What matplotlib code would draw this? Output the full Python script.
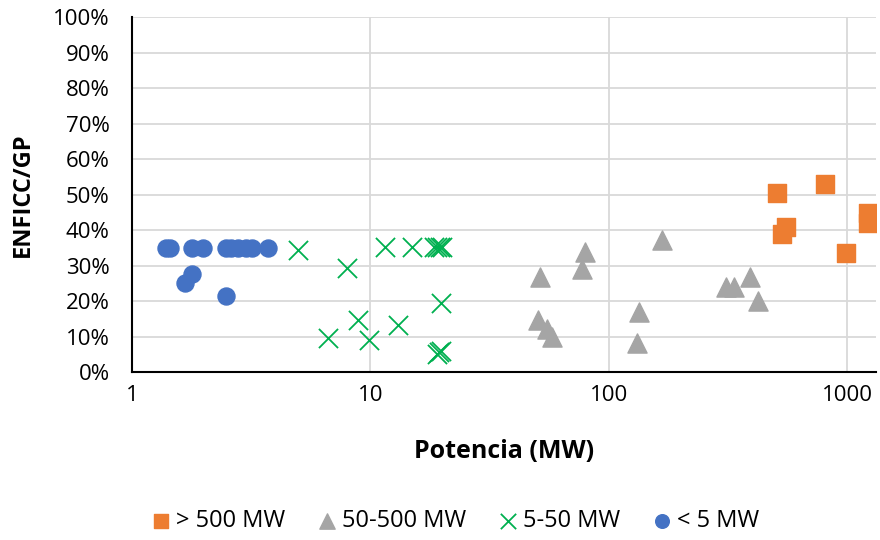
import matplotlib
matplotlib.use("Agg")
import matplotlib.pyplot as plt
from matplotlib.ticker import FixedLocator, FuncFormatter, NullLocator

plt.rcParams['font.family'] = ['Open Sans', 'DejaVu Sans']

# > 500 MW
big_x = [505, 807, 551, 533, 986, 1222, 1222]
big_y = [50.5, 53.0, 40.9, 38.9, 33.6, 44.9, 41.9]

# 50-500 MW
mid_x = [51.4, 79.3, 77.3, 50.6, 54.8, 57.5, 167, 133.6, 130.6, 311, 334, 390, 423]
mid_y = [26.8, 33.9, 28.9, 14.8, 12.0, 9.9, 37.2, 17.0, 8.3, 24.0, 24.0, 26.8, 20.1]

# 5-50 MW
small_x = [4.98, 7.95, 6.66, 8.89, 9.89, 11.5, 14.9, 18.5, 19.0, 19.5, 20.0,
           19.7, 13.1, 19.0, 19.4, 19.8]
small_y = [34.4, 29.2, 9.5, 14.6, 9.0, 35.3, 35.3, 35.3, 35.3, 35.3, 35.3,
           19.5, 13.2, 5.2, 5.7, 6.0]

# < 5 MW
tiny_x = [1.39, 1.44, 1.785, 1.98, 2.48, 2.60, 2.78, 3.0, 3.18, 3.72, 1.785, 1.67, 2.48]
tiny_y = [35.0, 35.0, 35.0, 35.0, 35.0, 35.0, 35.0, 35.0, 35.0, 35.0, 27.6, 25.0, 21.4]

fig = plt.figure(figsize=(8.8, 5.4), dpi=100)
ax = fig.add_axes([0.15, 0.311, 0.8455, 0.6575])

ax.scatter(big_x, big_y, marker='s', s=150, color='#ED7D31', label='> 500 MW', zorder=3)
ax.scatter(mid_x, mid_y, marker='^', s=190, color='#A5A5A5', label='50-500 MW', zorder=3)
ax.scatter(small_x, small_y, marker='x', s=190, color='#00B050', linewidths=1.3,
           label='5-50 MW', zorder=3)
ax.scatter(tiny_x, tiny_y, marker='o', s=150, color='#4472C4', label='< 5 MW', zorder=3)

ax.set_xscale('log')
ax.set_xlim(1, 1320)
ax.set_ylim(0, 100)
ax.xaxis.set_major_locator(FixedLocator([1, 10, 100, 1000]))
ax.xaxis.set_minor_locator(NullLocator())
ax.xaxis.set_major_formatter(FuncFormatter(lambda v, p: f"{v:g}"))
ax.set_yticks(range(0, 101, 10))
ax.yaxis.set_major_formatter(FuncFormatter(lambda v, p: f"{v:.0f}%"))

ax.grid(True, color='#D9D9D9', linewidth=1.3, zorder=0)
ax.set_axisbelow(True)
for side in ['top', 'right']:
    ax.spines[side].set_visible(False)
for side in ['left', 'bottom']:
    ax.spines[side].set_color('black')
    ax.spines[side].set_linewidth(1.5)
ax.tick_params(axis='y', length=0, labelsize=16, pad=16)
ax.tick_params(axis='x', length=0, labelsize=16, pad=9)

ax.set_xlabel('Potencia (MW)', fontsize=18, fontweight='bold', labelpad=24)
ax.set_ylabel('ENFICC/GP', fontsize=17, fontweight='bold', labelpad=13)

fig.legend(loc='center', bbox_to_anchor=(0.515, 0.035), ncol=4, frameon=False,
           fontsize=17, handlelength=1.2, handletextpad=0.05, columnspacing=1.15,
           markerscale=0.8)

fig.savefig('out.png', dpi=100)
